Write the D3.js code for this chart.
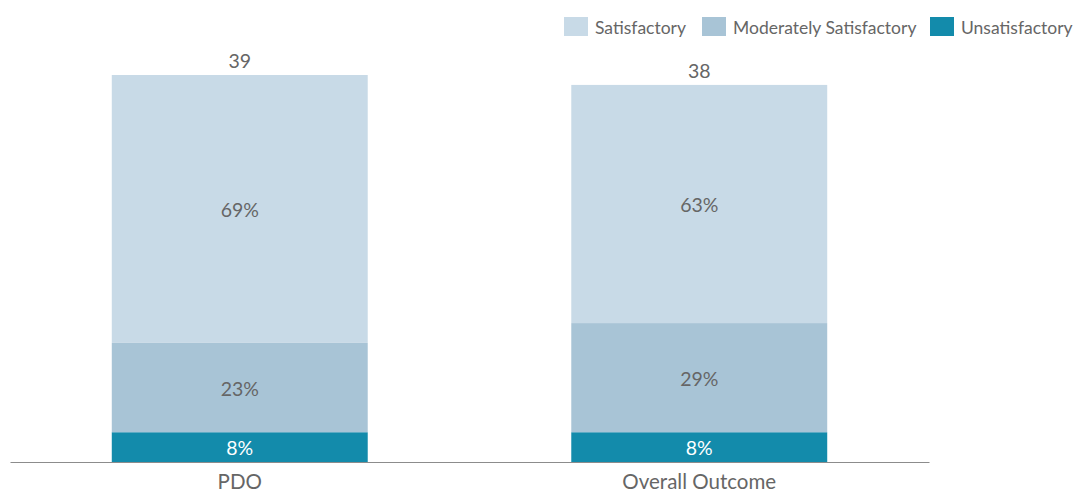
<!DOCTYPE html>
<html>
<head>
<meta charset="utf-8">
<script src="https://cdn.jsdelivr.net/npm/d3@7"></script>
<style>
  html, body { margin: 0; padding: 0; background: #fff; }
  text { font-family: Lato, "Open Sans", sans-serif; }
</style>
</head>
<body>
<svg id="chart" width="1076" height="491"></svg>
<script>
// Ratings by category (number of projects)
const categories = ["PDO", "Overall Outcome"];
const ratings = ["Satisfactory", "Moderately Satisfactory", "Unsatisfactory"];
const satisfactory = [27, 24];
const moderatelySatisfactory = [9, 11];
const unsatisfactory = [3, 3];
const colors = ["#c8dae7", "#a8c4d6", "#138bab"];

const rows = categories.map((c, i) => ({
  category: c,
  "Satisfactory": satisfactory[i],
  "Moderately Satisfactory": moderatelySatisfactory[i],
  "Unsatisfactory": unsatisfactory[i]
}));
rows.forEach(r => r.total = ratings.reduce((s, k) => s + r[k], 0));

const svg = d3.select("#chart");
const left = 10, right = 929, baseline = 462;

const x = d3.scaleBand()
  .domain(categories)
  .range([left, right])
  .paddingInner(0.443)
  .paddingOuter(0.2215);

const y = d3.scaleLinear()
  .domain([0, 39])
  .range([baseline, 75]);

const color = d3.scaleOrdinal().domain(ratings).range(colors);

// stack bottom-up: Unsatisfactory, Moderately, Satisfactory
const stackOrder = ["Unsatisfactory", "Moderately Satisfactory", "Satisfactory"];
const series = d3.stack().keys(stackOrder)(rows);

const g = svg.append("g");
series.forEach(s => {
  const layer = g.append("g");
  layer.selectAll("rect")
    .data(s)
    .join("rect")
    .attr("x", d => x(d.data.category))
    .attr("y", d => y(d[1]))
    .attr("width", x.bandwidth())
    .attr("height", d => y(d[0]) - y(d[1]))
    .attr("fill", color(s.key));
  layer.selectAll("text")
    .data(s)
    .join("text")
    .attr("x", d => x(d.data.category) + x.bandwidth() / 2)
    .attr("y", d => (y(d[0]) + y(d[1])) / 2 + 1.5)
    .attr("dy", "0.35em")
    .attr("text-anchor", "middle")
    .attr("font-size", 19.5)
    .attr("fill", s.key === "Unsatisfactory" ? "#ffffff" : "#666666")
    .text(d => Math.round((d[1] - d[0]) / d.data.total * 100) + "%");
});

// totals above the bars
g.selectAll("text.total")
  .data(rows)
  .join("text")
  .attr("class", "total")
  .attr("x", d => x(d.category) + x.bandwidth() / 2)
  .attr("y", d => y(d.total) - 7)
  .attr("text-anchor", "middle")
  .attr("font-size", 19.5)
  .attr("fill", "#666666")
  .text(d => d.total);

// category axis
const axis = svg.append("g")
  .attr("transform", `translate(0,${baseline})`)
  .call(d3.axisBottom(x).tickSize(0).tickPadding(12));
axis.select(".domain").attr("stroke", "#8c8c8c").attr("stroke-width", 1.2);
axis.selectAll(".tick text")
  .attr("font-size", 20.5)
  .attr("fill", "#666666")
  .style("font-family", "Lato, 'Open Sans', sans-serif");

// legend
const legendX = [564, 702, 930];
const legend = svg.append("g");
ratings.forEach((r, i) => {
  const item = legend.append("g").attr("transform", `translate(${legendX[i]},17)`);
  item.append("rect").attr("width", 24).attr("height", 19).attr("fill", color(r));
  item.append("text")
    .attr("x", 31).attr("y", 10.5).attr("dy", "0.35em")
    .attr("font-size", 17.5)
    .attr("fill", "#666666")
    .text(r);
});
</script>
</body>
</html>
